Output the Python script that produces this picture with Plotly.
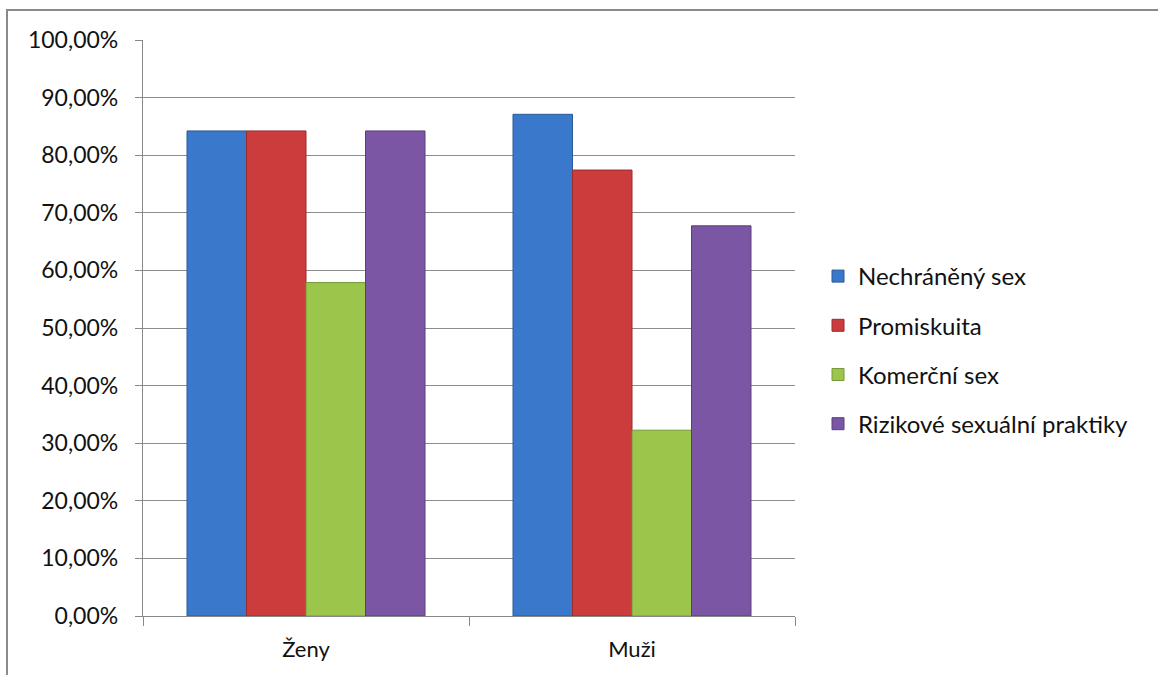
import plotly.graph_objects as go

# Data: share of respondents (in %) by sex
categories = ["Ženy", "Muži"]
series_names = ["Nechráněný sex", "Promiskuita", "Komerční sex", "Rizikové sexuální praktiky"]
nechraneny = [84.21, 87.10]
promiskuita = [84.21, 77.42]
komercni = [57.89, 32.26]
rizikove = [84.21, 67.74]
tick_vals = [0, 10, 20, 30, 40, 50, 60, 70, 80, 90, 100]
tick_text = ["0,00%", "10,00%", "20,00%", "30,00%", "40,00%", "50,00%",
             "60,00%", "70,00%", "80,00%", "90,00%", "100,00%"]

colors = ["#3a78cc", "#cc3c3c", "#9bc64b", "#7a56a4"]
edges = ["#2a5a98", "#9a2c2c", "#769a36", "#5a3e7c"]

W, H = 1158, 675
L, R, T, B = 143, W - 795, 40, H - 616

fig = go.Figure()
for i, (name, vals) in enumerate(zip(series_names, [nechraneny, promiskuita, komercni, rizikove])):
    fig.add_trace(go.Bar(
        x=categories, y=vals, name=name, legendgroup=name,
        marker=dict(color=colors[i], line=dict(color=edges[i], width=1)),
    ))

font = "Lato, 'Open Sans', sans-serif"
pw, ph = W - L - R, H - T - B

fig.update_layout(
    width=W, height=H,
    margin=dict(l=L, r=R, t=T, b=B),
    paper_bgcolor="white", plot_bgcolor="white",
    barmode="group", bargap=0.27, bargroupgap=0,
    font=dict(family=font, size=20, color="#111"),
    showlegend=True,
    legend=dict(x=(818 - L) / pw, y=(616 - 254) / ph, xanchor="left", yanchor="top",
                font=dict(family=font, size=24, color="#111"),
                tracegroupgap=15, itemwidth=30, bgcolor="rgba(0,0,0,0)"),
    xaxis=dict(showline=True, linecolor="#888", linewidth=1.3,
               ticks="outside", ticklen=9, tickcolor="#888", tickson="boundaries",
               ticklabelstandoff=13,
               tickfont=dict(family=font, size=22, color="#111")),
    yaxis=dict(range=[0, 100], tickvals=tick_vals, ticktext=tick_text,
               showline=True, linecolor="#888", linewidth=1.3,
               ticks="outside", ticklen=7, tickcolor="#888",
               showgrid=True, gridcolor="#8c8c8c", gridwidth=1,
               zeroline=False, ticklabelstandoff=12,
               tickfont=dict(family=font, size=23, color="#111")),
)

# Chart frame
fig.add_shape(type="rect", xref="paper", yref="paper",
              x0=(7 - L) / pw, x1=(W + 20 - L) / pw,
              y0=(616 - (H + 20)) / ph, y1=(616 - 10) / ph,
              line=dict(color="#8a8a8a", width=2), fillcolor="rgba(0,0,0,0)", layer="below")

fig.write_html("out.html")
